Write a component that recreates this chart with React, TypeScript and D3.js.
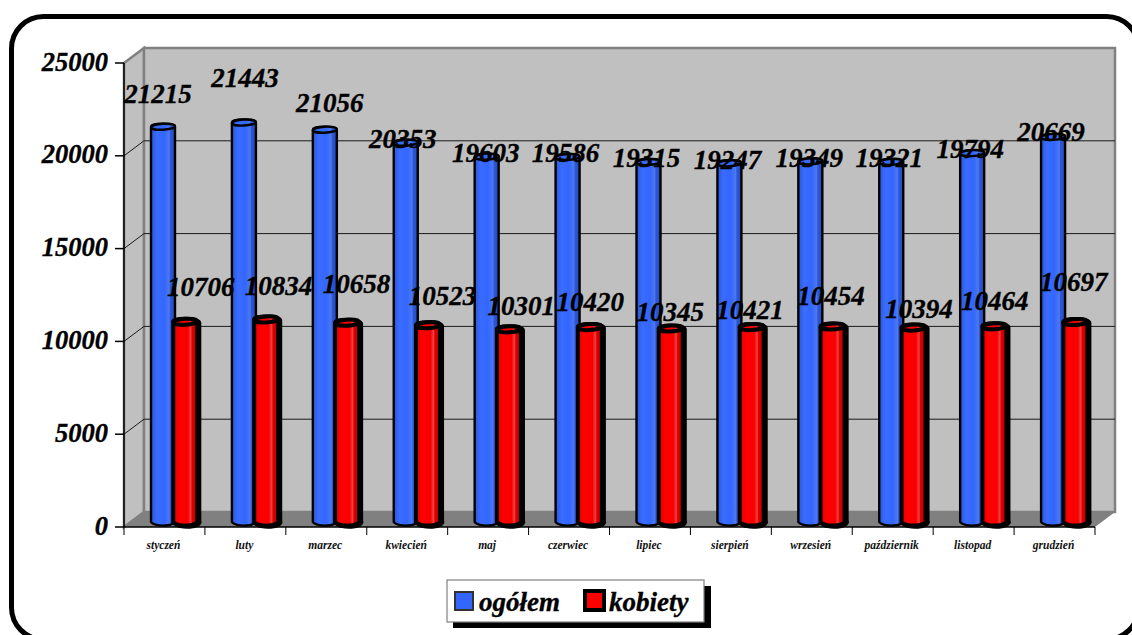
import React from "react";
import * as d3 from "d3";

const months = ["styczeń","luty","marzec","kwiecień","maj","czerwiec","lipiec","sierpień","wrzesień","październik","listopad","grudzień"];
const ogolem = [21215,21443,21056,20353,19603,19586,19315,19247,19349,19321,19794,20669];
const kobiety = [10706,10834,10658,10523,10301,10420,10345,10421,10454,10394,10464,10697];
const yTicks = [0,5000,10000,15000,20000,25000];
// hand-placed label nudges of the original, relative to the bar top
const ogolemDx = [-5,1,5,-3,-1,-2,-2,-2,-1,-2,-2,-2];
const ogolemDy = [-25,-36.5,-19,4,4,4,4,5,5,4,4,3];
const kobietyDx = [15,12,9,14,12,0,-1,-2,-2,5,0,-2];
const kobietyDy = [-27,-25,-31,-21,-15,-17,-8,-9,-22,-11,-17,-32];

const W = 1132, H = 635;
const left = 124, right = 1095, bottom = 527, top = 63;
const depthX = 20, depthY = 15;
const serif = "'Liberation Serif','Times New Roman',serif";

const x = d3.scaleBand<string>().domain(months).range([left, right]);
const y = d3.scaleLinear().domain([0, 25000]).range([bottom, top]);
const barLift = 6.5;
const labelLift = 5.5;

function Bar({ cx, v, hw, fill, sw, shadow }: any) {
  const ty = y(v) - barLift;
  const by = y(0) - 5;
  const ry = 3;
  const body = `M${cx - hw},${ty} L${cx - hw},${by} A${hw},${ry + 1.5} 0 0 0 ${cx + hw},${by - 2} L${cx + hw},${ty} A${hw},${ry} 0 0 0 ${cx - hw},${ty} Z`;
  return (
    <g>
      {shadow && <path d={body} transform="translate(1.8,1)" fill="#000" stroke="#000" strokeWidth={sw + 0.5} />}
      <path d={body} fill={fill} stroke="#000" strokeWidth={sw} strokeLinejoin="round" />
      <ellipse cx={cx} cy={ty} rx={hw} ry={ry} fill={fill} stroke="#000" strokeWidth={sw} transform={`rotate(-3 ${cx} ${ty})`} />
    </g>
  );
}

export default function App() {
  const bw = x.bandwidth();
  const heavy = { stroke: "#000", strokeWidth: 0.35 } as any;
  return (
    <svg width={W} height={H} viewBox={`0 0 ${W} ${H}`} style={{ position: "absolute", left: 0, top: 0, display: "block", background: "#fff" }}>
      <defs>
        <linearGradient id="blueG" x1="0" x2="1" y1="0" y2="0">
          <stop offset="0" stopColor="#2a56d8" />
          <stop offset="0.25" stopColor="#3a6cff" />
          <stop offset="0.55" stopColor="#3366ff" />
          <stop offset="0.75" stopColor="#4c78f0" />
          <stop offset="0.8" stopColor="#2e58d8" />
          <stop offset="1" stopColor="#2448b8" />
        </linearGradient>
        <linearGradient id="redG" x1="0" x2="1" y1="0" y2="0">
          <stop offset="0" stopColor="#e00000" />
          <stop offset="0.25" stopColor="#ff0000" />
          <stop offset="0.6" stopColor="#f80000" />
          <stop offset="0.72" stopColor="#f04040" />
          <stop offset="0.78" stopColor="#dc0000" />
          <stop offset="1" stopColor="#b80000" />
        </linearGradient>
      </defs>

      <rect x={11.5} y={16.5} width={1127} height={623} rx={32} fill="#fff" stroke="#000" strokeWidth={5} />

      {/* walls */}
      <polygon points={`${left},${top} ${left + depthX},${top - depthY} ${left + depthX},${bottom - depthY} ${left},${bottom}`} fill="#c0c0c0" stroke="#808080" strokeWidth={2.5} />
      <rect x={left + depthX} y={top - depthY} width={right - left} height={bottom - top} fill="#c0c0c0" stroke="#808080" strokeWidth={2.5} />
      <polygon points={`${left},${bottom} ${left + depthX},${bottom - depthY} ${right + depthX},${bottom - depthY} ${right},${bottom}`} fill="#808080" />

      {/* grid */}
      {yTicks.filter((t) => t > 0 && t < 25000).map((t) => (
        <path key={t} d={`M${left},${y(t)} L${left + depthX},${y(t) - depthY} L${right + depthX},${y(t) - depthY}`} stroke="#1a1a1a" strokeWidth={1} fill="none" />
      ))}

      {/* axes */}
      <line x1={left} x2={left} y1={top} y2={bottom} stroke="#000" strokeWidth={1.5} />
      <line x1={left} x2={right} y1={bottom} y2={bottom} stroke="#000" strokeWidth={1.5} />
      {yTicks.map((t) => (
        <g key={t}>
          <line x1={left - 9} x2={left} y1={y(t)} y2={y(t)} stroke="#000" strokeWidth={1.5} />
          <text {...heavy} x={108} y={y(t) + 7.5} textAnchor="end" fontFamily={serif} fontWeight="bold" fontStyle="italic" fontSize={26.5} fill="#000">{t}</text>
        </g>
      ))}
      {[...months.map((m) => x(m) as number), right].map((p, i) => (
        <line key={i} x1={p} x2={p} y1={bottom} y2={bottom + 8} stroke="#000" strokeWidth={1} />
      ))}
      {months.map((m) => (
        <text key={m} x={(x(m) as number) + bw / 2 - 1} y={549} textAnchor="middle" fontFamily={serif} fontWeight="bold" fontStyle="italic" fontSize={11.5} fill="#111">{m}</text>
      ))}

      {/* bars */}
      {months.map((m, i) => {
        const b = x(m) as number;
        return (
          <g key={m}>
            <Bar cx={b + bw * 0.482} v={ogolem[i]} hw={12} fill="url(#blueG)" sw={2.4} />
            <Bar cx={b + bw * 0.757} v={kobiety[i]} hw={12} fill="url(#redG)" sw={4} shadow />
          </g>
        );
      })}

      {/* data labels */}
      {months.map((m, i) => {
        const b = x(m) as number;
        const common = { ...heavy, textAnchor: "middle", fontFamily: serif, fontWeight: "bold", fontStyle: "italic", fontSize: 27, fill: "#000" } as any;
        return (
          <g key={m}>
            <text {...common} x={b + bw * 0.482 + ogolemDx[i]} y={y(ogolem[i]) - labelLift + ogolemDy[i]}>{ogolem[i]}</text>
            <text {...common} x={b + bw * 0.762 + kobietyDx[i]} y={y(kobiety[i]) - labelLift + kobietyDy[i]}>{kobiety[i]}</text>
          </g>
        );
      })}

      {/* legend */}
      <rect x={453} y={586} width={258} height={42} fill="#000" />
      <rect x={447} y={580} width={257} height={42} fill="#fff" stroke="#808080" strokeWidth={1.2} />
      <rect x={455} y={592} width={18} height={18} fill="#3366ff" stroke="#333" strokeWidth={2} />
      <text {...heavy} x={479} y={611} fontFamily={serif} fontWeight="bold" fontStyle="italic" fontSize={27}>ogółem</text>
      <rect x={585} y={591} width={19} height={19} fill="#ff0000" stroke="#000" strokeWidth={4} />
      <text {...heavy} x={609} y={611} fontFamily={serif} fontWeight="bold" fontStyle="italic" fontSize={27}>kobiety</text>
    </svg>
  );
}
